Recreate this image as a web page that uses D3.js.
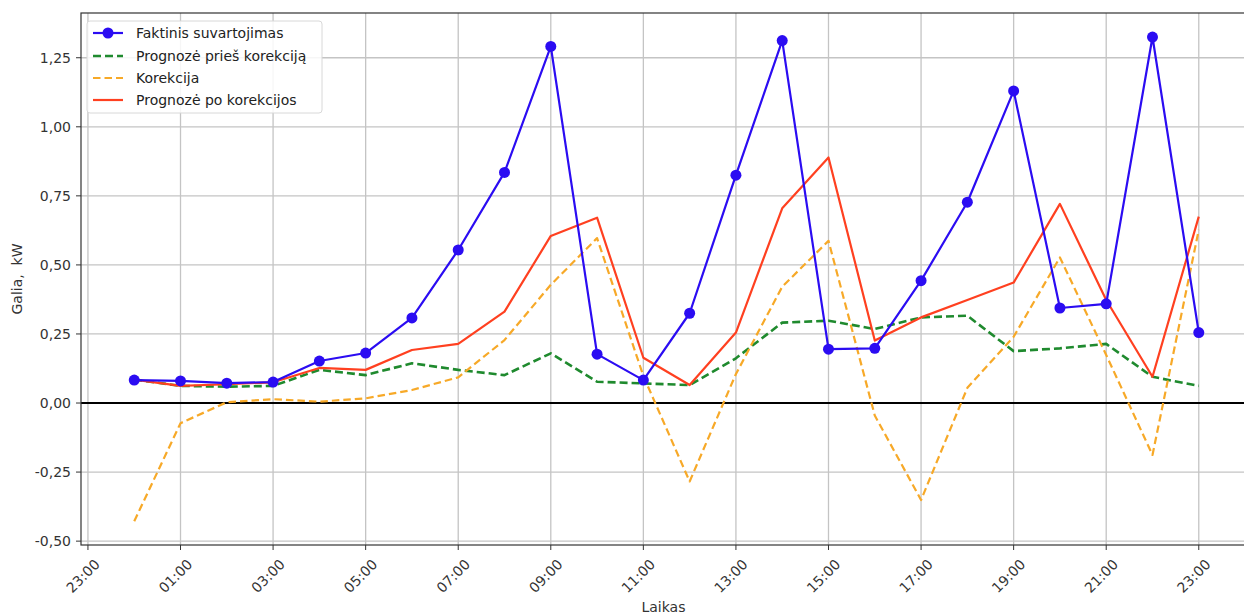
<!DOCTYPE html>
<html>
<head>
<meta charset="utf-8">
<script src="https://cdn.jsdelivr.net/npm/d3@7"></script>
<style>
  body { margin: 0; background: #fff; }
  text { font-family: "DejaVu Sans", sans-serif; }
</style>
</head>
<body>
<div id="chart"></div>
<script>
// data
const hours = [0, 1, 2, 3, 4, 5, 6, 7, 8, 9, 10, 11, 12, 13, 14, 15, 16, 17, 18, 19, 20, 21, 22, 23]
const actual = [0.083, 0.080, 0.072, 0.076, 0.152, 0.181, 0.308, 0.554, 0.835, 1.291, 0.177, 0.083, 0.325, 0.825, 1.312, 0.195, 0.198, 0.443, 0.727, 1.130, 0.344, 0.359, 1.325, 0.255]
const before = [0.085, 0.062, 0.059, 0.062, 0.120, 0.101, 0.144, 0.120, 0.101, 0.180, 0.077, 0.071, 0.065, 0.162, 0.291, 0.298, 0.268, 0.310, 0.316, 0.188, 0.198, 0.214, 0.095, 0.062]
const correction = [-0.428, -0.073, 0.003, 0.014, 0.005, 0.017, 0.047, 0.093, 0.228, 0.428, 0.597, 0.098, -0.284, 0.105, 0.421, 0.587, -0.045, -0.351, 0.055, 0.240, 0.527, 0.174, -0.188, 0.627]
const after = [0.085, 0.062, 0.068, 0.075, 0.127, 0.120, 0.192, 0.214, 0.331, 0.605, 0.671, 0.164, 0.065, 0.255, 0.705, 0.889, 0.226, 0.310, 0.373, 0.436, 0.721, 0.373, 0.095, 0.675]

const xTickHours = [-1, 1, 3, 5, 7, 9, 11, 13, 15, 17, 19, 21, 23]
const yTicks = [-0.5, -0.25, 0, 0.25, 0.5, 0.75, 1.0, 1.25]

const legendNames = ['Faktinis suvartojimas', 'Prognozė prieš korekciją', 'Korekcija', 'Prognozė po korekcijos']

// layout
const width = 1244
const height = 615
const plotLeft = 81
const plotTop = 13
const plotBottom = 545
const plotRight = 1252

const svg = d3.select('#chart').append('svg')
  .attr('width', width)
  .attr('height', height)

const x = d3.scaleLinear().domain([-1.15, 24.15]).range([plotLeft, plotRight])
const y = d3.scaleLinear().domain([-0.514, 1.412]).range([plotBottom, plotTop])

svg.append('clipPath').attr('id', 'plot-clip')
  .append('rect')
  .attr('x', plotLeft).attr('y', plotTop)
  .attr('width', plotRight - plotLeft).attr('height', plotBottom - plotTop)

// grid
const grid = svg.append('g').attr('clip-path', 'url(#plot-clip)')
grid.selectAll('line.vg').data(xTickHours).join('line')
  .attr('class', 'vg')
  .attr('x1', d => x(d)).attr('x2', d => x(d))
  .attr('y1', plotTop).attr('y2', plotBottom)
  .attr('stroke', '#c4c4c4').attr('stroke-width', 1.3)
grid.selectAll('line.hg').data(yTicks).join('line')
  .attr('class', 'hg')
  .attr('x1', plotLeft).attr('x2', plotRight)
  .attr('y1', d => y(d)).attr('y2', d => y(d))
  .attr('stroke', '#c4c4c4').attr('stroke-width', 1.3)

// zero line
grid.append('line')
  .attr('x1', plotLeft).attr('x2', plotRight)
  .attr('y1', y(0)).attr('y2', y(0))
  .attr('stroke', '#000').attr('stroke-width', 2)

const plot = svg.append('g').attr('clip-path', 'url(#plot-clip)')

const series = [
  {name: legendNames[1], values: before, color: '#1f8a2e', width: 2.6, dash: '8,4'},
  {name: legendNames[2], values: correction, color: '#f7a928', width: 2.2, dash: '7.5,4'},
  {name: legendNames[3], values: after, color: '#ff4020', width: 2.2, dash: null},
  {name: legendNames[0], values: actual, color: '#2b0cf2', width: 2.2, dash: null}
]

const line = d3.line().x((d, i) => x(hours[i])).y(d => y(d))

series.forEach(s => {
  plot.append('path')
    .datum(s.values)
    .attr('d', line)
    .attr('fill', 'none')
    .attr('stroke', s.color)
    .attr('stroke-width', s.width)
    .attr('stroke-dasharray', s.dash)
    .attr('stroke-linejoin', 'round')
})

plot.selectAll('circle.dot').data(actual).join('circle')
  .attr('class', 'dot')
  .attr('cx', (d, i) => x(hours[i]))
  .attr('cy', d => y(d))
  .attr('r', 5.5)
  .attr('fill', '#2b0cf2')

// frame
svg.append('rect')
  .attr('x', plotLeft).attr('y', plotTop)
  .attr('width', plotRight - plotLeft).attr('height', plotBottom - plotTop)
  .attr('fill', 'none').attr('stroke', '#333').attr('stroke-width', 1.2)

// y axis
const yAxis = svg.append('g')
yAxis.selectAll('line').data(yTicks).join('line')
  .attr('x1', plotLeft - 5).attr('x2', plotLeft)
  .attr('y1', d => y(d)).attr('y2', d => y(d))
  .attr('stroke', '#333').attr('stroke-width', 1)
yAxis.selectAll('text').data(yTicks).join('text')
  .attr('x', plotLeft - 10)
  .attr('y', d => y(d))
  .attr('dy', '0.36em')
  .attr('text-anchor', 'end')
  .attr('font-size', 14)
  .attr('fill', '#333')
  .text(d => d3.format('.2f')(d).replace('.', ',').replace('−', '-'))

// x axis
const fmtHour = h => String((h + 24) % 24).padStart(2, '0') + ':00'
const xAxis = svg.append('g')
xAxis.selectAll('line').data(xTickHours).join('line')
  .attr('x1', d => x(d)).attr('x2', d => x(d))
  .attr('y1', plotBottom).attr('y2', plotBottom + 5)
  .attr('stroke', '#333').attr('stroke-width', 1)
xAxis.selectAll('text').data(xTickHours).join('text')
  .attr('transform', d => `translate(${x(d) - 5}, ${plotBottom + 31}) rotate(-45)`)
  .attr('text-anchor', 'middle')
  .attr('dy', '0.35em')
  .attr('font-size', 14)
  .attr('fill', '#333')
  .text(fmtHour)

// axis titles
svg.append('text')
  .attr('x', (plotLeft + plotRight) / 2 - 3)
  .attr('y', 612)
  .attr('text-anchor', 'middle')
  .attr('font-size', 14)
  .attr('fill', '#333')
  .text('Laikas')

svg.append('text')
  .attr('transform', `translate(22, ${(plotTop + plotBottom) / 2}) rotate(-90)`)
  .attr('text-anchor', 'middle')
  .attr('font-size', 14)
  .attr('fill', '#333')
  .style('white-space', 'pre')
  .text('Galia,  kW')

// legend
const legend = svg.append('g')
legend.append('rect')
  .attr('x', 87).attr('y', 21)
  .attr('width', 235).attr('height', 92)
  .attr('rx', 3)
  .attr('fill', 'rgba(255,255,255,0.85)')
  .attr('stroke', '#d8d8d8')

const legendItems = [series[3], series[0], series[1], series[2]]
const rowY = [33, 56, 78, 100]
legendItems.forEach((s, i) => {
  const g = legend.append('g').attr('transform', `translate(0, ${rowY[i]})`)
  g.append('line')
    .attr('x1', 93).attr('x2', 123)
    .attr('stroke', s.color)
    .attr('stroke-width', s.width)
    .attr('stroke-dasharray', s.dash)
  if (i === 0) {
    g.append('circle').attr('cx', 108).attr('r', 5.5).attr('fill', s.color)
  }
  g.append('text')
    .attr('x', 136)
    .attr('dy', '0.35em')
    .attr('font-size', 14)
    .attr('fill', '#222')
    .text(s.name)
})
</script>
</body>
</html>
